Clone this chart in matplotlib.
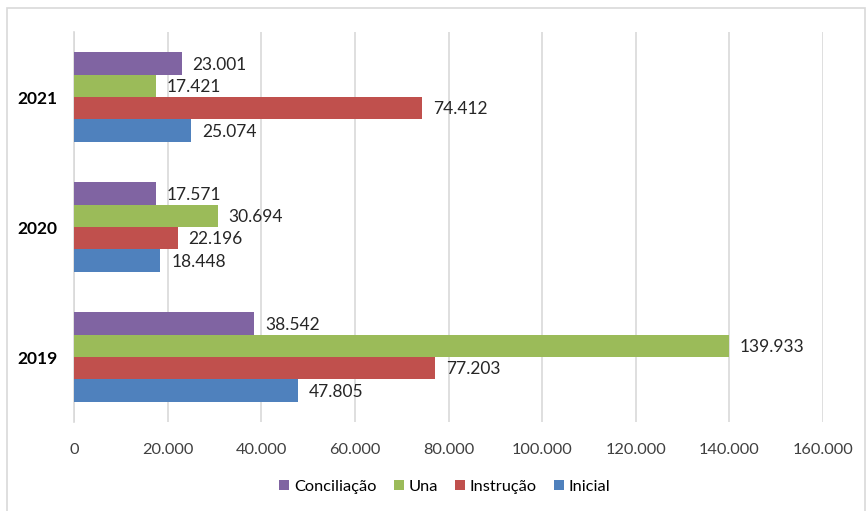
import matplotlib.pyplot as plt
import numpy as np
from matplotlib.patches import Rectangle

# Dados por ano
years = ['2019', '2020', '2021']
series = ['Inicial', 'Instrução', 'Una', 'Conciliação']
inicial = [47805, 18448, 25074]
instrucao = [77203, 22196, 74412]
una = [139933, 30694, 17421]
conciliacao = [38542, 17571, 23001]
xticks = [0, 20000, 40000, 60000, 80000, 100000, 120000, 140000, 160000]

colors = ['#4F81BD', '#C0504D', '#9BBB59', '#8064A2']
values = [inicial, instrucao, una, conciliacao]

plt.rcParams['font.family'] = ['Lato', 'DejaVu Sans']

def fmt(v):
    # separador de milhar com ponto
    return f'{v:,.0f}'.replace(',', '.')

fig = plt.figure(figsize=(8.67, 5.11), dpi=100)
ax = fig.add_axes([74 / 867, 89 / 511, 749 / 867, 390 / 511])

# moldura do gráfico
fig.patches.append(Rectangle((7 / 867, -0.01), 858 / 867, 1 - 8 / 511 + 0.01,
                             transform=fig.transFigure, fill=False,
                             edgecolor='#D9D9D9', linewidth=1.2))

h = 0.172
y = np.arange(len(years))
bars = []
for i, (name, vals, c) in enumerate(zip(series, values, colors)):
    pos = y + (i - 1.5) * h
    b = ax.barh(pos, vals, height=h, color=c, label=name, zorder=3)
    bars.append(b)
    for p, v in zip(pos, vals):
        ax.text(v + 2300, p - 0.01, fmt(v), va='center', ha='left', fontsize=12.5,
                color='#262626')

ax.set_xlim(0, 160000)
ax.set_ylim(-0.5, 2.5)
ax.set_yticks(y)
ax.set_yticklabels(years, fontweight='bold', fontsize=12.5)
ax.set_xticks(xticks)
ax.set_xticklabels([fmt(t) for t in xticks], fontsize=11.8, color='#404040')
ax.tick_params(axis='both', length=0)
ax.tick_params(axis='x', pad=15)
ax.tick_params(axis='y', pad=12)
ax.grid(axis='x', color='#D9D9D9', linewidth=1.2, zorder=0)
for s in ['top', 'right', 'bottom']:
    ax.spines[s].set_visible(False)
ax.spines['left'].set_color('#D9D9D9')
ax.spines['left'].set_linewidth(1.2)

handles = [bars[3], bars[2], bars[1], bars[0]]
labels = ['Conciliação', 'Una', 'Instrução', 'Inicial']
fig.legend(handles, labels, loc='center', bbox_to_anchor=(445 / 867, 1 - 487 / 511),
           ncol=4, frameon=False, fontsize=11.8, handlelength=0.6, handleheight=0.6,
           handletextpad=0.3, columnspacing=1.05)

plt.savefig('out.png', dpi=100)
